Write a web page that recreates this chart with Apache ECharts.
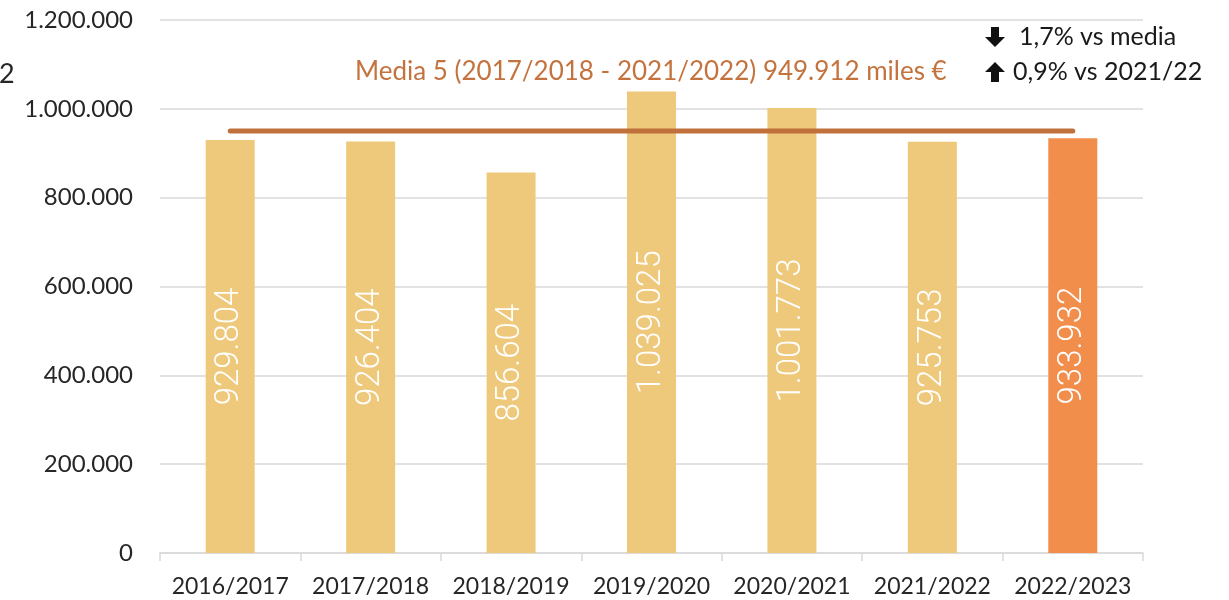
<!DOCTYPE html>
<html>
<head>
<meta charset="utf-8">
<script src="https://cdn.jsdelivr.net/npm/echarts@6/dist/echarts.min.js"></script>
<style>
  html, body { margin: 0; padding: 0; background: #fff; }
  #chart { width: 1229px; height: 600px; }
</style>
</head>
<body>
<div id="chart"></div>
<script>
const campaigns = ['2016/2017', '2017/2018', '2018/2019', '2019/2020', '2020/2021', '2021/2022', '2022/2023']
const values = [929804, 926404, 856604, 1039025, 1001773, 925753, 933932]
const mediaValue = 949912
const mediaLabel = 'Media 5 (2017/2018 - 2021/2022) 949.912 miles €'
const notes = ['1,7% vs media', '0,9% vs 2021/22']

const fmt = (v) => String(Math.round(v)).replace(/\B(?=(\d{3})+(?!\d))/g, '.')
const font = 'Lato, "Open Sans", sans-serif'

// thick block arrow, pointing down (dir 1) or up (dir -1), drawn around (cx, cy)
function arrow(cx, cy, dir) {
  const h = 10, s = 4, w = 10
  const pts = [[-s, -h], [s, -h], [s, 0], [w, 0], [0, h], [-w, 0], [-s, 0]]
  return {
    type: 'polygon',
    shape: { points: pts.map(([x, y]) => [cx + x, cy + y * dir]) },
    style: { fill: '#111' },
  }
}

const chart = echarts.init(document.getElementById('chart'))

const barData = values.map((v, i) => ({
  value: v,
  itemStyle: { color: i === values.length - 1 ? '#F28E4B' : '#EFC97B' },
}))

chart.setOption({
  animation: false,
  grid: { left: 160, right: 86, top: 20, bottom: 47 },
  xAxis: {
    type: 'category',
    data: campaigns,
    axisLine: { lineStyle: { color: '#d9d9d9', width: 1.5 } },
    axisTick: { show: true, length: 8, lineStyle: { color: '#d9d9d9', width: 1.5 } },
    axisLabel: { color: '#262626', fontSize: 23, fontFamily: font, margin: 22, interval: 0, hideOverlap: false },
  },
  yAxis: {
    type: 'value',
    min: 0,
    max: 1200000,
    interval: 200000,
    axisLine: { show: false },
    axisTick: { show: false },
    splitLine: { lineStyle: { color: '#d9d9d9', width: 1.5 } },
    axisLabel: {
      color: '#262626', fontSize: 24, fontFamily: font, margin: 27,
      formatter: fmt,
    },
  },
  graphic: [
    {
      type: 'text', left: -1, top: 61,
      style: { text: '2', fontSize: 27, fontFamily: font, fill: '#262626' },
    },
    {
      type: 'text', left: 355, top: 59,
      style: { text: mediaLabel, fontSize: 26, fontFamily: font, fill: '#C4733F' },
    },
    arrow(995, 37, 1),
    {
      type: 'text', left: 1019, top: 24,
      style: { text: notes[0], fontSize: 25, fontFamily: font, fill: '#1a1a1a' },
    },
    arrow(995, 72, -1),
    {
      type: 'text', left: 1013, top: 59,
      style: { text: notes[1], fontSize: 25, fontFamily: font, fill: '#1a1a1a' },
    },
  ],
  series: [
    {
      type: 'bar',
      data: barData,
      barWidth: 49,
      label: {
        show: true,
        position: 'inside',
        rotate: 90,
        color: '#fff',
        fontSize: 33,
        fontWeight: 300,
        fontFamily: 'Roboto, sans-serif',
        formatter: (p) => fmt(p.value),
      },
    },
    {
      type: 'line',
      data: campaigns.map(() => mediaValue),
      symbol: 'none',
      lineStyle: { color: '#C0703B', width: 5, cap: 'round' },
      z: 5,
    },
  ],
})
</script>
</body>
</html>
